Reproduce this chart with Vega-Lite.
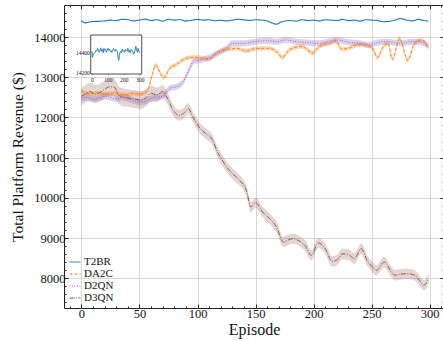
{
  "$schema": "https://vega.github.io/schema/vega-lite/v6.json",
  "width": 380,
  "height": 303,
  "autosize": "none",
  "padding": {"left": 64, "top": 5, "right": 0, "bottom": 33},
  "background": "white",
  "config": {
    "font": "Liberation Serif",
    "view": {"stroke": "#222222", "strokeWidth": 1},
    "axis": {"domain": false, "labelFont": "Liberation Serif", "titleFont": "Liberation Serif", "tickColor": "#222222", "labelColor": "#111111", "titleColor": "#111111", "titleFontWeight": "normal", "format": "d"},
    "legend": {"orient": "bottom-left", "offset": 5, "labelFont": "Liberation Serif", "labelFontSize": 11, "symbolType": "stroke", "symbolStrokeWidth": 1, "symbolSize": 120, "rowPadding": 1, "labelOffset": 3, "padding": 0, "labelColor": "#111111"}
  },
  "datasets": {
    "d": [
      {"s": "T2BR", "e": 0, "v": 14410}, {"s": "T2BR", "e": 3, "v": 14350}, {"s": "T2BR", "e": 6, "v": 14370}, {"s": "T2BR", "e": 10, "v": 14385}, {"s": "T2BR", "e": 15, "v": 14390}, {"s": "T2BR", "e": 20, "v": 14400}, {"s": "T2BR", "e": 25, "v": 14420}, {"s": "T2BR", "e": 30, "v": 14410}, {"s": "T2BR", "e": 35, "v": 14440}, {"s": "T2BR", "e": 40, "v": 14430}, {"s": "T2BR", "e": 45, "v": 14400}, {"s": "T2BR", "e": 50, "v": 14420}, {"s": "T2BR", "e": 55, "v": 14445}, {"s": "T2BR", "e": 60, "v": 14410}, {"s": "T2BR", "e": 65, "v": 14430}, {"s": "T2BR", "e": 70, "v": 14395}, {"s": "T2BR", "e": 75, "v": 14440}, {"s": "T2BR", "e": 80, "v": 14420}, {"s": "T2BR", "e": 85, "v": 14430}, {"s": "T2BR", "e": 90, "v": 14400}, {"s": "T2BR", "e": 95, "v": 14415}, {"s": "T2BR", "e": 100, "v": 14440}, {"s": "T2BR", "e": 105, "v": 14420}, {"s": "T2BR", "e": 110, "v": 14430}, {"s": "T2BR", "e": 115, "v": 14405}, {"s": "T2BR", "e": 120, "v": 14415}, {"s": "T2BR", "e": 125, "v": 14400}, {"s": "T2BR", "e": 130, "v": 14420}, {"s": "T2BR", "e": 135, "v": 14440}, {"s": "T2BR", "e": 140, "v": 14425}, {"s": "T2BR", "e": 145, "v": 14410}, {"s": "T2BR", "e": 150, "v": 14430}, {"s": "T2BR", "e": 155, "v": 14420}, {"s": "T2BR", "e": 160, "v": 14400}, {"s": "T2BR", "e": 165, "v": 14340}, {"s": "T2BR", "e": 168, "v": 14320}, {"s": "T2BR", "e": 172, "v": 14370}, {"s": "T2BR", "e": 176, "v": 14400}, {"s": "T2BR", "e": 180, "v": 14410}, {"s": "T2BR", "e": 185, "v": 14395}, {"s": "T2BR", "e": 190, "v": 14430}, {"s": "T2BR", "e": 195, "v": 14410}, {"s": "T2BR", "e": 200, "v": 14420}, {"s": "T2BR", "e": 205, "v": 14400}, {"s": "T2BR", "e": 210, "v": 14430}, {"s": "T2BR", "e": 215, "v": 14420}, {"s": "T2BR", "e": 220, "v": 14410}, {"s": "T2BR", "e": 225, "v": 14440}, {"s": "T2BR", "e": 230, "v": 14405}, {"s": "T2BR", "e": 235, "v": 14420}, {"s": "T2BR", "e": 240, "v": 14395}, {"s": "T2BR", "e": 245, "v": 14430}, {"s": "T2BR", "e": 250, "v": 14420}, {"s": "T2BR", "e": 255, "v": 14410}, {"s": "T2BR", "e": 260, "v": 14380}, {"s": "T2BR", "e": 265, "v": 14390}, {"s": "T2BR", "e": 270, "v": 14420}, {"s": "T2BR", "e": 275, "v": 14460}, {"s": "T2BR", "e": 280, "v": 14420}, {"s": "T2BR", "e": 285, "v": 14400}, {"s": "T2BR", "e": 290, "v": 14440}, {"s": "T2BR", "e": 295, "v": 14410}, {"s": "T2BR", "e": 299, "v": 14395},

      {"s": "DA2C", "e": 0, "v": 12660, "lo": 12600, "hi": 12720}, {"s": "DA2C", "e": 5, "v": 12600, "lo": 12545, "hi": 12655}, {"s": "DA2C", "e": 10, "v": 12590, "lo": 12535, "hi": 12645}, {"s": "DA2C", "e": 15, "v": 12610, "lo": 12555, "hi": 12665}, {"s": "DA2C", "e": 20, "v": 12580, "lo": 12525, "hi": 12635}, {"s": "DA2C", "e": 25, "v": 12600, "lo": 12545, "hi": 12655}, {"s": "DA2C", "e": 30, "v": 12600, "lo": 12545, "hi": 12655}, {"s": "DA2C", "e": 35, "v": 12570, "lo": 12515, "hi": 12625}, {"s": "DA2C", "e": 40, "v": 12560, "lo": 12505, "hi": 12615}, {"s": "DA2C", "e": 45, "v": 12600, "lo": 12545, "hi": 12655}, {"s": "DA2C", "e": 50, "v": 12580, "lo": 12525, "hi": 12635}, {"s": "DA2C", "e": 55, "v": 12620, "lo": 12565, "hi": 12675}, {"s": "DA2C", "e": 58, "v": 12740, "lo": 12685, "hi": 12795}, {"s": "DA2C", "e": 61, "v": 13050, "lo": 12995, "hi": 13105}, {"s": "DA2C", "e": 64, "v": 13300, "lo": 13245, "hi": 13355}, {"s": "DA2C", "e": 67, "v": 13150, "lo": 13095, "hi": 13205}, {"s": "DA2C", "e": 71, "v": 12990, "lo": 12935, "hi": 13045}, {"s": "DA2C", "e": 76, "v": 13220, "lo": 13165, "hi": 13275}, {"s": "DA2C", "e": 82, "v": 13320, "lo": 13265, "hi": 13375}, {"s": "DA2C", "e": 87, "v": 13430, "lo": 13375, "hi": 13485}, {"s": "DA2C", "e": 93, "v": 13487, "lo": 13432, "hi": 13542}, {"s": "DA2C", "e": 99, "v": 13495, "lo": 13440, "hi": 13550}, {"s": "DA2C", "e": 105, "v": 13470, "lo": 13415, "hi": 13525}, {"s": "DA2C", "e": 110, "v": 13445, "lo": 13390, "hi": 13500}, {"s": "DA2C", "e": 116, "v": 13595, "lo": 13540, "hi": 13650}, {"s": "DA2C", "e": 122, "v": 13676, "lo": 13621, "hi": 13731}, {"s": "DA2C", "e": 128, "v": 13700, "lo": 13645, "hi": 13755}, {"s": "DA2C", "e": 134, "v": 13718, "lo": 13663, "hi": 13773}, {"s": "DA2C", "e": 142, "v": 13650, "lo": 13595, "hi": 13705}, {"s": "DA2C", "e": 148, "v": 13702, "lo": 13647, "hi": 13757}, {"s": "DA2C", "e": 154, "v": 13718, "lo": 13663, "hi": 13773}, {"s": "DA2C", "e": 162, "v": 13718, "lo": 13663, "hi": 13773}, {"s": "DA2C", "e": 168, "v": 13635, "lo": 13580, "hi": 13690}, {"s": "DA2C", "e": 173, "v": 13495, "lo": 13440, "hi": 13550}, {"s": "DA2C", "e": 179, "v": 13676, "lo": 13621, "hi": 13731}, {"s": "DA2C", "e": 185, "v": 13750, "lo": 13695, "hi": 13805}, {"s": "DA2C", "e": 190, "v": 13770, "lo": 13715, "hi": 13825}, {"s": "DA2C", "e": 194, "v": 13700, "lo": 13645, "hi": 13755}, {"s": "DA2C", "e": 199, "v": 13600, "lo": 13545, "hi": 13655}, {"s": "DA2C", "e": 204, "v": 13740, "lo": 13685, "hi": 13795}, {"s": "DA2C", "e": 208, "v": 13800, "lo": 13745, "hi": 13855}, {"s": "DA2C", "e": 214, "v": 13843, "lo": 13788, "hi": 13898}, {"s": "DA2C", "e": 219, "v": 13900, "lo": 13845, "hi": 13955}, {"s": "DA2C", "e": 224, "v": 13702, "lo": 13647, "hi": 13757}, {"s": "DA2C", "e": 230, "v": 13718, "lo": 13663, "hi": 13773}, {"s": "DA2C", "e": 235, "v": 13784, "lo": 13729, "hi": 13839}, {"s": "DA2C", "e": 241, "v": 13818, "lo": 13763, "hi": 13873}, {"s": "DA2C", "e": 247, "v": 13784, "lo": 13729, "hi": 13839}, {"s": "DA2C", "e": 251, "v": 13718, "lo": 13663, "hi": 13773}, {"s": "DA2C", "e": 255, "v": 13490, "lo": 13435, "hi": 13545}, {"s": "DA2C", "e": 260, "v": 13760, "lo": 13705, "hi": 13815}, {"s": "DA2C", "e": 264, "v": 13843, "lo": 13788, "hi": 13898}, {"s": "DA2C", "e": 268, "v": 13446, "lo": 13391, "hi": 13501}, {"s": "DA2C", "e": 274, "v": 13968, "lo": 13913, "hi": 14023}, {"s": "DA2C", "e": 281, "v": 13420, "lo": 13365, "hi": 13475}, {"s": "DA2C", "e": 287, "v": 13843, "lo": 13788, "hi": 13898}, {"s": "DA2C", "e": 293, "v": 13926, "lo": 13871, "hi": 13981}, {"s": "DA2C", "e": 299, "v": 13718, "lo": 13663, "hi": 13773},

      {"s": "D2QN", "e": 0, "v": 12480, "lo": 12400, "hi": 12560}, {"s": "D2QN", "e": 5, "v": 12500, "lo": 12420, "hi": 12580}, {"s": "D2QN", "e": 10, "v": 12450, "lo": 12370, "hi": 12530}, {"s": "D2QN", "e": 15, "v": 12480, "lo": 12400, "hi": 12560}, {"s": "D2QN", "e": 20, "v": 12520, "lo": 12440, "hi": 12600}, {"s": "D2QN", "e": 25, "v": 12500, "lo": 12420, "hi": 12580}, {"s": "D2QN", "e": 30, "v": 12460, "lo": 12380, "hi": 12540}, {"s": "D2QN", "e": 35, "v": 12500, "lo": 12420, "hi": 12580}, {"s": "D2QN", "e": 40, "v": 12470, "lo": 12390, "hi": 12550}, {"s": "D2QN", "e": 45, "v": 12420, "lo": 12340, "hi": 12500}, {"s": "D2QN", "e": 50, "v": 12380, "lo": 12300, "hi": 12460}, {"s": "D2QN", "e": 55, "v": 12400, "lo": 12320, "hi": 12480}, {"s": "D2QN", "e": 60, "v": 12470, "lo": 12390, "hi": 12550}, {"s": "D2QN", "e": 65, "v": 12500, "lo": 12420, "hi": 12580}, {"s": "D2QN", "e": 70, "v": 12530, "lo": 12450, "hi": 12610}, {"s": "D2QN", "e": 76, "v": 12725, "lo": 12650, "hi": 12800}, {"s": "D2QN", "e": 82, "v": 12765, "lo": 12690, "hi": 12840}, {"s": "D2QN", "e": 88, "v": 12900, "lo": 12825, "hi": 12975}, {"s": "D2QN", "e": 92, "v": 13140, "lo": 13065, "hi": 13215}, {"s": "D2QN", "e": 97, "v": 13400, "lo": 13325, "hi": 13475}, {"s": "D2QN", "e": 102, "v": 13420, "lo": 13345, "hi": 13495}, {"s": "D2QN", "e": 108, "v": 13470, "lo": 13395, "hi": 13545}, {"s": "D2QN", "e": 116, "v": 13570, "lo": 13495, "hi": 13645}, {"s": "D2QN", "e": 125, "v": 13718, "lo": 13643, "hi": 13793}, {"s": "D2QN", "e": 130, "v": 13843, "lo": 13768, "hi": 13918}, {"s": "D2QN", "e": 139, "v": 13843, "lo": 13768, "hi": 13918}, {"s": "D2QN", "e": 150, "v": 13884, "lo": 13809, "hi": 13959}, {"s": "D2QN", "e": 159, "v": 13910, "lo": 13835, "hi": 13985}, {"s": "D2QN", "e": 168, "v": 13884, "lo": 13809, "hi": 13959}, {"s": "D2QN", "e": 176, "v": 13926, "lo": 13851, "hi": 14001}, {"s": "D2QN", "e": 185, "v": 13884, "lo": 13809, "hi": 13959}, {"s": "D2QN", "e": 195, "v": 13860, "lo": 13785, "hi": 13935}, {"s": "D2QN", "e": 205, "v": 13843, "lo": 13768, "hi": 13918}, {"s": "D2QN", "e": 212, "v": 13880, "lo": 13805, "hi": 13955}, {"s": "D2QN", "e": 220, "v": 13926, "lo": 13851, "hi": 14001}, {"s": "D2QN", "e": 230, "v": 13870, "lo": 13795, "hi": 13945}, {"s": "D2QN", "e": 240, "v": 13843, "lo": 13768, "hi": 13918}, {"s": "D2QN", "e": 247, "v": 13800, "lo": 13725, "hi": 13875}, {"s": "D2QN", "e": 255, "v": 13860, "lo": 13785, "hi": 13935}, {"s": "D2QN", "e": 263, "v": 13884, "lo": 13809, "hi": 13959}, {"s": "D2QN", "e": 274, "v": 13843, "lo": 13768, "hi": 13918}, {"s": "D2QN", "e": 285, "v": 13884, "lo": 13809, "hi": 13959}, {"s": "D2QN", "e": 292, "v": 13870, "lo": 13795, "hi": 13945}, {"s": "D2QN", "e": 299, "v": 13800, "lo": 13725, "hi": 13875},

      {"s": "D3QN", "e": 0, "v": 12520, "lo": 12300, "hi": 12740}, {"s": "D3QN", "e": 4, "v": 12600, "lo": 12380, "hi": 12820}, {"s": "D3QN", "e": 8, "v": 12640, "lo": 12420, "hi": 12860}, {"s": "D3QN", "e": 12, "v": 12580, "lo": 12360, "hi": 12800}, {"s": "D3QN", "e": 16, "v": 12620, "lo": 12400, "hi": 12840}, {"s": "D3QN", "e": 20, "v": 12700, "lo": 12480, "hi": 12920}, {"s": "D3QN", "e": 24, "v": 12760, "lo": 12540, "hi": 12980}, {"s": "D3QN", "e": 28, "v": 12760, "lo": 12540, "hi": 12980}, {"s": "D3QN", "e": 32, "v": 12560, "lo": 12340, "hi": 12780}, {"s": "D3QN", "e": 36, "v": 12500, "lo": 12280, "hi": 12720}, {"s": "D3QN", "e": 42, "v": 12475, "lo": 12255, "hi": 12695}, {"s": "D3QN", "e": 47, "v": 12450, "lo": 12230, "hi": 12670}, {"s": "D3QN", "e": 51, "v": 12430, "lo": 12210, "hi": 12650}, {"s": "D3QN", "e": 56, "v": 12500, "lo": 12290, "hi": 12710}, {"s": "D3QN", "e": 60, "v": 12600, "lo": 12400, "hi": 12800}, {"s": "D3QN", "e": 65, "v": 12560, "lo": 12380, "hi": 12740}, {"s": "D3QN", "e": 70, "v": 12640, "lo": 12480, "hi": 12800}, {"s": "D3QN", "e": 74, "v": 12480, "lo": 12330, "hi": 12630}, {"s": "D3QN", "e": 79, "v": 12180, "lo": 12040, "hi": 12320}, {"s": "D3QN", "e": 84, "v": 12055, "lo": 11920, "hi": 12190}, {"s": "D3QN", "e": 88, "v": 12100, "lo": 11965, "hi": 12235}, {"s": "D3QN", "e": 92, "v": 12220, "lo": 12085, "hi": 12355}, {"s": "D3QN", "e": 96, "v": 12015, "lo": 11880, "hi": 12150}, {"s": "D3QN", "e": 102, "v": 11730, "lo": 11600, "hi": 11860}, {"s": "D3QN", "e": 107, "v": 11600, "lo": 11470, "hi": 11730}, {"s": "D3QN", "e": 113, "v": 11435, "lo": 11305, "hi": 11565}, {"s": "D3QN", "e": 117, "v": 11150, "lo": 11020, "hi": 11280}, {"s": "D3QN", "e": 121, "v": 10950, "lo": 10820, "hi": 11080}, {"s": "D3QN", "e": 125, "v": 10770, "lo": 10640, "hi": 10900}, {"s": "D3QN", "e": 130, "v": 10605, "lo": 10475, "hi": 10735}, {"s": "D3QN", "e": 136, "v": 10440, "lo": 10310, "hi": 10570}, {"s": "D3QN", "e": 142, "v": 10190, "lo": 10060, "hi": 10320}, {"s": "D3QN", "e": 146, "v": 9775, "lo": 9645, "hi": 9905}, {"s": "D3QN", "e": 150, "v": 9880, "lo": 9750, "hi": 10010}, {"s": "D3QN", "e": 156, "v": 9650, "lo": 9520, "hi": 9780}, {"s": "D3QN", "e": 162, "v": 9485, "lo": 9355, "hi": 9615}, {"s": "D3QN", "e": 168, "v": 9275, "lo": 9145, "hi": 9405}, {"s": "D3QN", "e": 174, "v": 8900, "lo": 8770, "hi": 9030}, {"s": "D3QN", "e": 178, "v": 8950, "lo": 8820, "hi": 9080}, {"s": "D3QN", "e": 182, "v": 8985, "lo": 8855, "hi": 9115}, {"s": "D3QN", "e": 189, "v": 8900, "lo": 8770, "hi": 9030}, {"s": "D3QN", "e": 193, "v": 8800, "lo": 8670, "hi": 8930}, {"s": "D3QN", "e": 198, "v": 8570, "lo": 8440, "hi": 8700}, {"s": "D3QN", "e": 204, "v": 8880, "lo": 8750, "hi": 9010}, {"s": "D3QN", "e": 210, "v": 8735, "lo": 8605, "hi": 8865}, {"s": "D3QN", "e": 216, "v": 8420, "lo": 8290, "hi": 8550}, {"s": "D3QN", "e": 220, "v": 8450, "lo": 8320, "hi": 8580}, {"s": "D3QN", "e": 225, "v": 8610, "lo": 8480, "hi": 8740}, {"s": "D3QN", "e": 231, "v": 8570, "lo": 8440, "hi": 8700}, {"s": "D3QN", "e": 235, "v": 8485, "lo": 8355, "hi": 8615}, {"s": "D3QN", "e": 241, "v": 8735, "lo": 8605, "hi": 8865}, {"s": "D3QN", "e": 246, "v": 8445, "lo": 8315, "hi": 8575}, {"s": "D3QN", "e": 250, "v": 8300, "lo": 8170, "hi": 8430}, {"s": "D3QN", "e": 254, "v": 8195, "lo": 8065, "hi": 8325}, {"s": "D3QN", "e": 261, "v": 8405, "lo": 8275, "hi": 8535}, {"s": "D3QN", "e": 266, "v": 8200, "lo": 8070, "hi": 8330}, {"s": "D3QN", "e": 270, "v": 8075, "lo": 7945, "hi": 8205}, {"s": "D3QN", "e": 275, "v": 8100, "lo": 7970, "hi": 8230}, {"s": "D3QN", "e": 280, "v": 8115, "lo": 7985, "hi": 8245}, {"s": "D3QN", "e": 287, "v": 8075, "lo": 7945, "hi": 8205}, {"s": "D3QN", "e": 291, "v": 7950, "lo": 7820, "hi": 8080}, {"s": "D3QN", "e": 295, "v": 7825, "lo": 7695, "hi": 7955}, {"s": "D3QN", "e": 299, "v": 7990, "lo": 7860, "hi": 8120}
    ]
  },
  "data": {"name": "d"},
  "layer": [
    {
      "layer": [
        {
          "transform": [{"filter": "datum.s === 'D3QN'"}],
          "mark": {"type": "area", "fillOpacity": 0.25, "interpolate": "monotone"},
          "encoding": {
            "x": {"field": "e", "type": "quantitative", "scale": {"domain": [-15, 312.3], "nice": false, "zero": false},
              "axis": {"orient": "bottom", "values": [0, 50, 100, 150, 200, 250, 300], "grid": true, "gridColor": "#d4d4d4", "gridWidth": 0.9, "tickSize": -4, "labelFontSize": 12.5, "labelPadding": 3, "title": "Episode", "titleFontSize": 16, "titlePadding": 2}},
            "y": {"field": "lo", "type": "quantitative", "scale": {"domain": [7260, 14796], "nice": false, "zero": false},
              "axis": {"orient": "left", "values": [8000, 9000, 10000, 11000, 12000, 13000, 14000], "grid": true, "gridColor": "#d4d4d4", "gridWidth": 0.9, "tickSize": -4, "labelFontSize": 12.5, "labelPadding": 3, "title": "Total Platform Revenue ($)", "titleFontSize": 15.5, "titlePadding": 8}},
            "y2": {"field": "hi"},
            "fill": {"field": "s", "type": "nominal", "scale": {"domain": ["DA2C", "D2QN", "D3QN"], "range": ["#ff7f0e", "#9467bd", "#8c564b"]}, "legend": null}
          }
        },
        {
          "transform": [{"filter": "datum.s === 'DA2C' || datum.s === 'D2QN'"}],
          "mark": {"type": "area", "fillOpacity": 0.3, "interpolate": "monotone"},
          "encoding": {
            "x": {"field": "e", "type": "quantitative", "axis": {"orient": "top", "values": [0, 50, 100, 150, 200, 250, 300], "grid": false, "tickSize": -4, "labels": false, "title": null}},
            "y": {"field": "lo", "type": "quantitative", "axis": {"orient": "right", "values": [8000, 9000, 10000, 11000, 12000, 13000, 14000], "grid": false, "tickSize": -4, "labels": false, "title": null}},
            "y2": {"field": "hi"},
            "fill": {"field": "s", "type": "nominal", "legend": null}
          }
        },
        {
          "transform": [{"filter": "datum.s !== 'T2BR'"}],
          "mark": {"type": "line", "strokeWidth": 1, "interpolate": "monotone"},
          "encoding": {
            "x": {"field": "e", "type": "quantitative", "axis": {"orient": "bottom", "values": [-10, 10, 20, 30, 40, 60, 70, 80, 90, 110, 120, 130, 140, 160, 170, 180, 190, 210, 220, 230, 240, 260, 270, 280, 290, 310], "grid": false, "tickSize": -2, "labels": false, "title": null}},
            "y": {"field": "v", "type": "quantitative", "axis": {"orient": "left", "values": [7400, 7600, 7800, 8200, 8400, 8600, 8800, 9200, 9400, 9600, 9800, 10200, 10400, 10600, 10800, 11200, 11400, 11600, 11800, 12200, 12400, 12600, 12800, 13200, 13400, 13600, 13800, 14200, 14400, 14600], "grid": false, "tickSize": -2, "labels": false, "title": null}},
            "color": {"field": "s", "type": "nominal", "scale": {"domain": ["T2BR", "DA2C", "D2QN", "D3QN"], "range": ["#1f77b4", "#ff7f0e", "#9467bd", "#8c564b"]}, "legend": {"title": null}},
            "strokeDash": {"field": "s", "type": "nominal", "scale": {"domain": ["T2BR", "DA2C", "D2QN", "D3QN"], "range": [[1, 0], [3, 2], [1, 1.5], [5, 1.5, 1, 1.5]]}, "legend": {"title": null}}
          }
        },
        {
          "transform": [{"filter": "datum.s === 'T2BR'"}],
          "mark": {"type": "line", "strokeWidth": 1.1, "interpolate": "monotone"},
          "encoding": {
            "x": {"field": "e", "type": "quantitative", "axis": {"orient": "top", "values": [-10, 10, 20, 30, 40, 60, 70, 80, 90, 110, 120, 130, 140, 160, 170, 180, 190, 210, 220, 230, 240, 260, 270, 280, 290, 310], "grid": false, "tickSize": -2, "labels": false, "title": null}},
            "y": {"field": "v", "type": "quantitative", "axis": {"orient": "right", "values": [7400, 7600, 7800, 8200, 8400, 8600, 8800, 9200, 9400, 9600, 9800, 10200, 10400, 10600, 10800, 11200, 11400, 11600, 11800, 12200, 12400, 12600, 12800, 13200, 13400, 13600, 13800, 14200, 14400, 14600], "grid": false, "tickSize": -2, "labels": false, "title": null}},
            "color": {"field": "s", "type": "nominal", "legend": {"title": null}},
            "strokeDash": {"field": "s", "type": "nominal", "legend": {"title": null}}
          }
        }
      ],
      "resolve": {"axis": {"x": "independent", "y": "independent"}}
    },
    {
      "layer": [
        {
          "data": {"values": [{}]},
          "mark": {"type": "rect", "fill": "white", "stroke": "#222222", "strokeWidth": 0.8},
          "encoding": {
            "x": {"datum": -8, "type": "quantitative", "scale": {"domain": [-8, 312], "range": [26.7, 77.7], "nice": false, "zero": false},
              "axis": {"orient": "bottom", "offset": -234, "values": [0, 100, 200, 300], "grid": false, "tickSize": -2, "labelFontSize": 5.5, "labelPadding": 5, "title": null}},
            "x2": {"datum": 312},
            "y": {"datum": 14183, "type": "quantitative", "scale": {"domain": [14183, 14573], "range": [69, 30], "nice": false, "zero": false},
              "axis": {"orient": "left", "offset": -26.7, "values": [14200, 14400], "grid": false, "tickSize": -2, "labelFontSize": 5.5, "labelPadding": 3.5, "title": null}},
            "y2": {"datum": 14573}
          }
        },
        {
          "transform": [{"filter": "datum.s === 'T2BR'"}],
          "mark": {"type": "line", "color": "#1f77b4", "strokeWidth": 0.9},
          "encoding": {
            "x": {"field": "e", "type": "quantitative"},
            "y": {"field": "v", "type": "quantitative"}
          }
        }
      ]
    }
  ],
  "resolve": {"scale": {"x": "independent", "y": "independent"}}
}
